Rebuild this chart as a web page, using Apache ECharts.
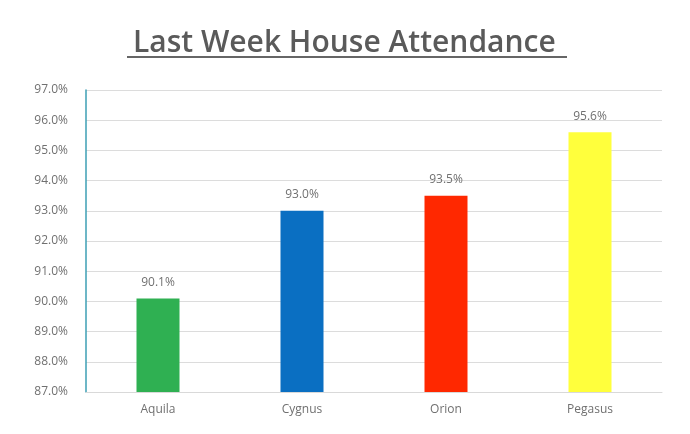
<!DOCTYPE html>
<html>
<head>
<meta charset="utf-8">
<script src="https://cdn.jsdelivr.net/npm/echarts@6/dist/echarts.min.js"></script>
<style>
  html, body { margin: 0; padding: 0; background: #fff; }
  #chart { width: 690px; height: 434px; }
</style>
</head>
<body>
<div id="chart"></div>
<script>
// Last week house attendance bar chart

var houses = ['Aquila', 'Cygnus', 'Orion', 'Pegasus'];
var attendance = [90.1, 93.0, 93.5, 95.6];
var barColors = ['#2fb052', '#0a6fc2', '#ff2800', '#ffff3c'];
var yTicks = [87, 88, 89, 90, 91, 92, 93, 94, 95, 96, 97];

var myChart = echarts.init(document.getElementById('chart'));
var option = {
    backgroundColor: '#fff',
    title: {
        text: 'Last Week House Attendance',
        left: 128,
        top: 23,
        textStyle: {
            fontFamily: 'Open Sans',
            fontSize: 30,
            fontWeight: 600,
            color: '#5a5a5a'
        }
    },
    graphic: [
        {
            // title underline
            type: 'line',
            shape: { x1: 127, y1: 57, x2: 567, y2: 57 },
            style: { stroke: '#666666', lineWidth: 2 }
        }
    ],
    grid: {
        left: 86,
        right: 28,
        top: 90,
        bottom: 42
    },
    xAxis: {
        type: 'category',
        data: houses,
        axisLine: { lineStyle: { color: '#d9d9d9' } },
        axisTick: { show: false },
        axisLabel: {
            color: '#707070',
            fontFamily: 'Open Sans',
            fontSize: 12,
            margin: 12
        }
    },
    yAxis: {
        type: 'value',
        min: yTicks[0],
        max: yTicks[yTicks.length - 1],
        interval: 1,
        axisLine: { show: true, lineStyle: { color: '#3d9fb4', width: 1.5 } },
        axisTick: { show: false },
        splitLine: { lineStyle: { color: '#dcdcdc' } },
        axisLabel: {
            color: '#707070',
            fontFamily: 'Open Sans',
            fontSize: 12,
            margin: 18,
            formatter: function (v) { return v.toFixed(1) + '%'; }
        }
    },
    series: [
        {
            type: 'bar',
            barWidth: 43,
            data: attendance.map(function (v, i) {
                return { value: v, itemStyle: { color: barColors[i] } };
            }),
            label: {
                show: true,
                position: 'top',
                distance: 10,
                color: '#707070',
                fontFamily: 'Open Sans',
                fontSize: 12,
                formatter: function (p) { return p.value.toFixed(1) + '%'; }
            }
        }
    ]
};
myChart.setOption(option);
</script>
</body>
</html>
